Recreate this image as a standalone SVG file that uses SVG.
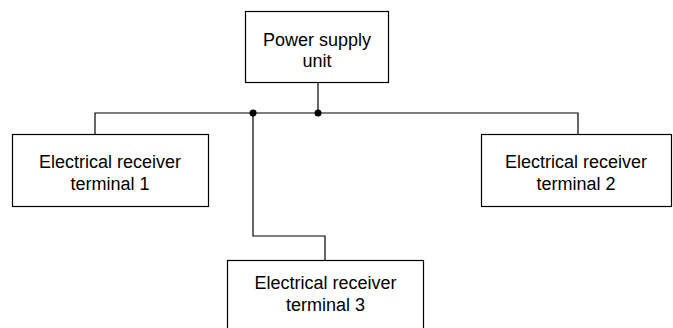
<svg xmlns="http://www.w3.org/2000/svg" width="673" height="328" viewBox="0 0 673 328">
<style>
.box{fill:#fff;stroke:#000;stroke-width:1.2}
.t{font-family:"Liberation Sans",Arial,sans-serif;font-size:18px;fill:#000;text-anchor:middle}
.w{fill:none;stroke:#000;stroke-width:1.2}
</style>
<rect width="673" height="328" fill="#fff"/>
<g id="connectors">
<path class="w" d="M318 82V113"/>
<path class="w" d="M95 134V113H578V134"/>
<path class="w" d="M253 113V236H325V260"/>
<circle cx="318" cy="113" r="3.5"/>
<circle cx="253" cy="113" r="3.5"/>
</g>
<g id="psu">
<rect class="box" x="245.5" y="11.5" width="143" height="71"/>
<text class="t" x="317" y="46">Power supply</text>
<text class="t" x="317" y="67">unit</text>
</g>
<g id="t1">
<rect class="box" x="12.5" y="134.5" width="196" height="72"/>
<text class="t" x="110" y="168">Electrical receiver</text>
<text class="t" x="110" y="190">terminal 1</text>
</g>
<g id="t2">
<rect class="box" x="481.5" y="134.5" width="190" height="72"/>
<text class="t" x="576" y="168">Electrical receiver</text>
<text class="t" x="576" y="190">terminal 2</text>
</g>
<g id="t3">
<rect class="box" x="227.5" y="260.5" width="196" height="75"/>
<text class="t" x="325.5" y="289">Electrical receiver</text>
<text class="t" x="325.5" y="311">terminal 3</text>
</g>
</svg>
